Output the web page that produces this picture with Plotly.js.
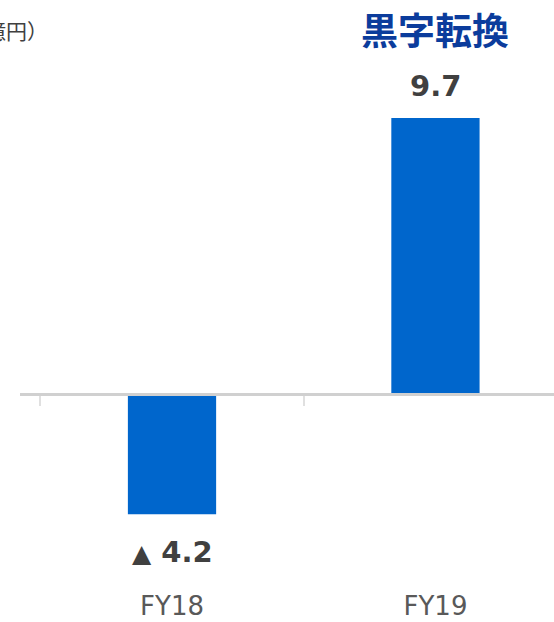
<!DOCTYPE html>
<html>
<head>
<meta charset="utf-8">
<script src="https://cdn.plot.ly/plotly-3.0.1.min.js"></script>
<style>
  html, body { margin: 0; padding: 0; background: #fff; overflow: hidden; }
  #chart { width: 554px; height: 622px; }
</style>
</head>
<body>
<div id="chart"></div>
<script>
// 営業利益（億円）
const fiscalYears = ['FY18', 'FY19'];
const profit = [-4.2, 9.7];
const unitLabel = '（億円）';
const headline = '黒字転換';

const barColor = '#0066cc';
const yMin = -6.58, yMax = 13.14;

// negative values are written with a ▲ prefix
const valueText = v => v < 0
  ? '<span style="font-size:25px">▲</span> ' + Math.abs(v).toFixed(1)
  : v.toFixed(1);

const bars = {
  type: 'bar',
  x: fiscalYears,
  y: profit,
  marker: { color: barColor, line: { width: 0 } },
  width: 0.335,
  hoverinfo: 'skip',
  showlegend: false
};

// carrier trace for the baseline axis drawn through zero
const baselineCarrier = {
  type: 'scatter',
  mode: 'markers',
  x: fiscalYears,
  y: [null, null],
  xaxis: 'x2',
  yaxis: 'y',
  hoverinfo: 'skip',
  showlegend: false
};

const valueLabels = fiscalYears.map((fy, i) => ({
  x: fy,
  y: profit[i],
  xref: 'x',
  yref: 'y',
  text: valueText(profit[i]),
  showarrow: false,
  yanchor: 'middle',
  yshift: profit[i] < 0 ? -38 : 32,
  font: { family: 'DejaVu Sans', size: 29, color: '#404040', weight: 'bold' }
}));

const zeroPos = (0 - yMin) / (yMax - yMin);
const plotTop = 20, plotBottom = 40, plotW = 534;
const plotH = 622 - plotTop - plotBottom;
const pxFromTop = px => 1 + (plotTop - px) / plotH;

const layout = {
  width: 554,
  height: 622,
  margin: { l: 20, r: 0, t: plotTop, b: plotBottom },
  paper_bgcolor: '#ffffff',
  plot_bgcolor: '#ffffff',
  xaxis: {
    type: 'category',
    range: [-0.577, 1.45],
    showline: false,
    showgrid: false,
    zeroline: false,
    ticks: '',
    ticklabelstandoff: 6,
    tickfont: { family: 'DejaVu Sans', size: 26, color: '#595959' },
    fixedrange: true
  },
  xaxis2: {
    type: 'category',
    overlaying: 'x',
    matches: 'x',
    anchor: 'free',
    position: zeroPos,
    side: 'bottom',
    showline: true,
    linecolor: '#d0d0d0',
    linewidth: 3,
    showgrid: false,
    zeroline: false,
    ticks: 'outside',
    tickson: 'boundaries',
    ticklen: 10,
    tickwidth: 2,
    tickcolor: '#e0e0e0',
    showticklabels: false,
    fixedrange: true
  },
  yaxis: {
    range: [yMin, yMax],
    visible: false,
    showgrid: false,
    zeroline: false,
    fixedrange: true
  },
  annotations: [
    ...valueLabels,
    {
      x: 'FY19',
      y: pxFromTop(29),
      xref: 'x',
      yref: 'paper',
      yanchor: 'middle',
      text: headline,
      showarrow: false,
      font: { family: 'Noto Sans CJK JP', size: 37, color: '#0b3c9c', weight: 'bold' }
    },
    {
      x: 30 / plotW,
      y: pxFromTop(30),
      xref: 'paper',
      yref: 'paper',
      xanchor: 'right',
      yanchor: 'middle',
      text: unitLabel,
      showarrow: false,
      font: { family: 'Noto Sans CJK JP', size: 21, color: '#404040' }
    }
  ]
};

Plotly.newPlot('chart', [bars, baselineCarrier], layout, { displayModeBar: false, staticPlot: true });
</script>
</body>
</html>
